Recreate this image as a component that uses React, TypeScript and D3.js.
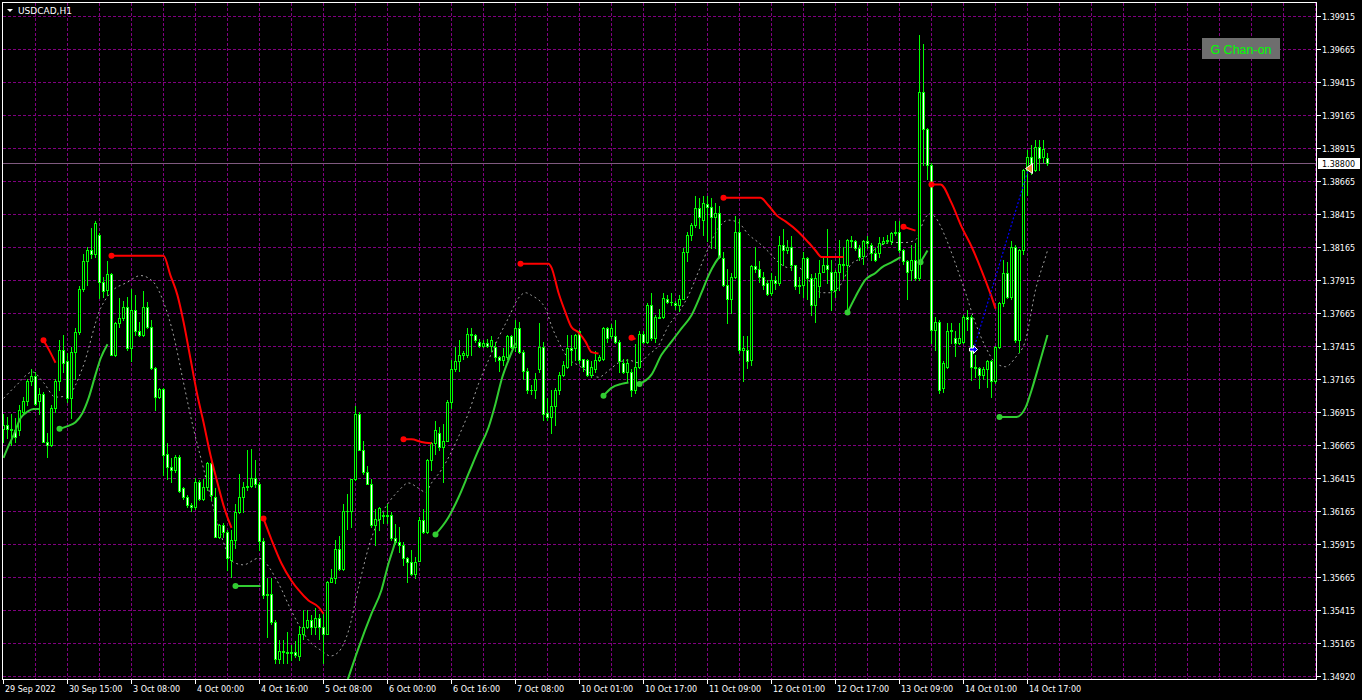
import React from "react";
import * as d3 from "d3";

const symbolTitle = "USDCAD,H1";
const buttonLabel = "G Chan-on";
const currentPrice = 1.388;

// Hourly OHLC, 262 bars (29 Sep 2022 23:00 .. 14 Oct 2022 22:00)
const barOpen = [
  1.3679,1.3682,1.3679,1.3678,1.3678,1.3692,1.3700,1.3715,1.3719,1.3700,
  1.3705,1.3669,1.3667,1.3695,1.3715,1.3739,1.3730,1.3702,1.3737,1.3752,
  1.3785,1.3806,1.3814,1.3811,1.3826,1.3790,1.3784,1.3796,1.3735,1.3759,
  1.3763,1.3771,1.3740,1.3769,1.3753,1.3750,1.3771,1.3756,1.3725,1.3703,
  1.3709,1.3660,1.3650,1.3648,1.3658,1.3634,1.3627,1.3621,1.3620,1.3639,
  1.3626,1.3635,1.3653,1.3627,1.3597,1.3606,1.3601,1.3580,1.3595,1.3616,
  1.3627,1.3635,1.3636,1.3642,1.3637,1.3594,1.3553,1.3554,1.3533,1.3505,
  1.3511,1.3510,1.3509,1.3510,1.3507,1.3524,1.3529,1.3534,1.3529,1.3536,
  1.3529,1.3524,1.3563,1.3566,1.3588,1.3573,1.3617,1.3617,1.3641,1.3690,
  1.3663,1.3646,1.3637,1.3606,1.3611,1.3614,1.3613,1.3614,1.3596,1.3593,
  1.3591,1.3581,1.3578,1.3569,1.3579,1.3610,1.3601,1.3655,1.3668,1.3676,
  1.3665,1.3670,1.3699,1.3724,1.3730,1.3735,1.3735,1.3751,1.3750,1.3745,
  1.3742,1.3744,1.3742,1.3741,1.3733,1.3731,1.3733,1.3749,1.3741,1.3755,
  1.3737,1.3723,1.3708,1.3708,1.3724,1.3741,1.3691,1.3688,1.3696,1.3708,
  1.3720,1.3726,1.3740,1.3740,1.3753,1.3732,1.3731,1.3720,1.3724,1.3731,
  1.3732,1.3755,1.3749,1.3749,1.3745,1.3729,1.3722,1.3722,1.3708,1.3726,
  1.3751,1.3745,1.3773,1.3748,1.3764,1.3764,1.3777,1.3775,1.3774,1.3773,
  1.3777,1.3813,1.3826,1.3833,1.3846,1.3837,1.3849,1.3847,1.3839,1.3842,
  1.3808,1.3788,1.3777,1.3794,1.3828,1.3739,1.3739,1.3731,1.3802,1.3800,
  1.3794,1.3789,1.3782,1.3792,1.3789,1.3818,1.3814,1.3817,1.3803,1.3787,
  1.3788,1.3808,1.3793,1.3773,1.3787,1.3798,1.3803,1.3798,1.3784,1.3798,
  1.3804,1.3803,1.3822,1.3821,1.3816,1.3810,1.3821,1.3818,1.3812,1.3812,
  1.3820,1.3821,1.3821,1.3827,1.3828,1.3814,1.3806,1.3799,1.3807,1.3793,
  1.3934,1.3906,1.3879,1.3754,1.3760,1.3710,1.3726,1.3753,1.3748,1.3744,
  1.3745,1.3764,1.3764,1.3726,1.3725,1.3720,1.3724,1.3730,1.3715,1.3741,
  1.3774,1.3797,1.3779,1.3817,1.3746,1.3814,1.3875,1.3885,1.3875,1.3892,
  1.3885,1.3884,
];
const barHigh = [
  1.3690,1.3688,1.3690,1.3687,1.3697,1.3703,1.3717,1.3724,1.3722,1.3710,
  1.3707,1.3676,1.3697,1.3717,1.3746,1.3750,1.3736,1.3741,1.3755,1.3787,
  1.3811,1.3817,1.3831,1.3836,1.3827,1.3794,1.3806,1.3797,1.3760,1.3778,
  1.3776,1.3779,1.3785,1.3780,1.3760,1.3783,1.3775,1.3761,1.3726,1.3710,
  1.3710,1.3668,1.3657,1.3659,1.3659,1.3635,1.3629,1.3623,1.3642,1.3640,
  1.3641,1.3654,1.3654,1.3634,1.3607,1.3608,1.3602,1.3602,1.3622,1.3645,
  1.3639,1.3663,1.3664,1.3655,1.3639,1.3596,1.3566,1.3566,1.3534,1.3519,
  1.3519,1.3525,1.3515,1.3518,1.3530,1.3542,1.3542,1.3538,1.3543,1.3539,
  1.3540,1.3564,1.3573,1.3595,1.3598,1.3622,1.3630,1.3641,1.3696,1.3692,
  1.3670,1.3651,1.3641,1.3618,1.3620,1.3616,1.3622,1.3616,1.3607,1.3605,
  1.3593,1.3582,1.3587,1.3582,1.3612,1.3618,1.3656,1.3669,1.3685,1.3680,
  1.3683,1.3701,1.3731,1.3741,1.3746,1.3738,1.3755,1.3755,1.3751,1.3747,
  1.3746,1.3747,1.3749,1.3745,1.3734,1.3740,1.3750,1.3750,1.3761,1.3760,
  1.3739,1.3725,1.3712,1.3721,1.3759,1.3745,1.3702,1.3708,1.3710,1.3722,
  1.3730,1.3750,1.3750,1.3751,1.3754,1.3732,1.3732,1.3730,1.3738,1.3735,
  1.3756,1.3756,1.3758,1.3761,1.3746,1.3732,1.3732,1.3724,1.3743,1.3753,
  1.3753,1.3774,1.3782,1.3765,1.3770,1.3782,1.3780,1.3782,1.3776,1.3780,
  1.3816,1.3828,1.3835,1.3855,1.3854,1.3855,1.3855,1.3854,1.3850,1.3848,
  1.3813,1.3800,1.3797,1.3840,1.3838,1.3749,1.3749,1.3803,1.3817,1.3806,
  1.3798,1.3792,1.3797,1.3795,1.3825,1.3830,1.3822,1.3825,1.3803,1.3794,
  1.3813,1.3809,1.3796,1.3797,1.3807,1.3809,1.3830,1.3807,1.3799,1.3822,
  1.3817,1.3823,1.3825,1.3822,1.3818,1.3822,1.3825,1.3820,1.3816,1.3824,
  1.3824,1.3826,1.3828,1.3836,1.3836,1.3815,1.3807,1.3818,1.3820,1.3977,
  1.3970,1.3907,1.3880,1.3764,1.3761,1.3730,1.3759,1.3759,1.3753,1.3759,
  1.3765,1.3769,1.3765,1.3735,1.3726,1.3726,1.3731,1.3731,1.3742,1.3775,
  1.3807,1.3805,1.3821,1.3818,1.3815,1.3876,1.3890,1.3894,1.3898,1.3898,
  1.3898,1.3888,
];
const barLow = [
  1.3669,1.3672,1.3667,1.3669,1.3674,1.3690,1.3697,1.3712,1.3697,1.3690,
  1.3669,1.3658,1.3666,1.3692,1.3708,1.3722,1.3699,1.3687,1.3717,1.3751,
  1.3783,1.3788,1.3808,1.3809,1.3778,1.3779,1.3780,1.3735,1.3734,1.3756,
  1.3761,1.3739,1.3730,1.3750,1.3749,1.3749,1.3755,1.3724,1.3693,1.3702,
  1.3644,1.3641,1.3639,1.3646,1.3631,1.3626,1.3620,1.3617,1.3618,1.3625,
  1.3625,1.3633,1.3625,1.3597,1.3596,1.3597,1.3572,1.3567,1.3589,1.3615,
  1.3616,1.3633,1.3635,1.3635,1.3587,1.3551,1.3521,1.3531,1.3502,1.3502,
  1.3502,1.3502,1.3504,1.3506,1.3504,1.3520,1.3528,1.3524,1.3524,1.3520,
  1.3502,1.3524,1.3563,1.3562,1.3572,1.3572,1.3603,1.3605,1.3640,1.3663,
  1.3645,1.3637,1.3605,1.3591,1.3602,1.3608,1.3608,1.3595,1.3592,1.3586,
  1.3576,1.3563,1.3568,1.3566,1.3579,1.3600,1.3600,1.3648,1.3660,1.3663,
  1.3639,1.3670,1.3695,1.3723,1.3723,1.3732,1.3733,1.3735,1.3745,1.3741,
  1.3741,1.3741,1.3738,1.3730,1.3723,1.3727,1.3732,1.3740,1.3738,1.3736,
  1.3717,1.3706,1.3705,1.3702,1.3722,1.3686,1.3686,1.3676,1.3682,1.3705,
  1.3719,1.3725,1.3727,1.3731,1.3729,1.3723,1.3719,1.3718,1.3722,1.3730,
  1.3731,1.3745,1.3748,1.3744,1.3722,1.3721,1.3715,1.3704,1.3706,1.3725,
  1.3744,1.3744,1.3746,1.3745,1.3763,1.3763,1.3774,1.3773,1.3770,1.3768,
  1.3777,1.3806,1.3822,1.3832,1.3831,1.3826,1.3821,1.3816,1.3816,1.3808,
  1.3787,1.3759,1.3767,1.3793,1.3736,1.3715,1.3725,1.3727,1.3798,1.3790,
  1.3785,1.3780,1.3780,1.3785,1.3788,1.3803,1.3812,1.3799,1.3785,1.3782,
  1.3779,1.3777,1.3765,1.3760,1.3779,1.3798,1.3789,1.3769,1.3779,1.3784,
  1.3793,1.3769,1.3817,1.3814,1.3807,1.3804,1.3816,1.3807,1.3806,1.3809,
  1.3819,1.3820,1.3819,1.3826,1.3813,1.3804,1.3777,1.3792,1.3792,1.3792,
  1.3879,1.3868,1.3744,1.3739,1.3706,1.3707,1.3725,1.3744,1.3734,1.3743,
  1.3744,1.3754,1.3716,1.3718,1.3710,1.3717,1.3711,1.3703,1.3714,1.3740,
  1.3772,1.3778,1.3777,1.3745,1.3737,1.3811,1.3856,1.3872,1.3874,1.3875,
  1.3881,1.3879,
];
const barClose = [
  1.3682,1.3679,1.3678,1.3673,1.3693,1.3700,1.3715,1.3719,1.3698,1.3705,
  1.3669,1.3667,1.3695,1.3715,1.3739,1.3729,1.3702,1.3737,1.3752,1.3785,
  1.3806,1.3814,1.3811,1.3835,1.3790,1.3783,1.3796,1.3735,1.3759,1.3763,
  1.3771,1.3740,1.3769,1.3753,1.3750,1.3771,1.3756,1.3725,1.3703,1.3709,
  1.3659,1.3650,1.3648,1.3658,1.3632,1.3627,1.3621,1.3620,1.3639,1.3626,
  1.3635,1.3653,1.3629,1.3597,1.3606,1.3601,1.3581,1.3595,1.3616,1.3627,
  1.3635,1.3636,1.3642,1.3637,1.3594,1.3553,1.3554,1.3533,1.3505,1.3511,
  1.3510,1.3509,1.3510,1.3508,1.3524,1.3529,1.3534,1.3529,1.3536,1.3529,
  1.3524,1.3563,1.3566,1.3588,1.3573,1.3617,1.3617,1.3641,1.3690,1.3663,
  1.3646,1.3637,1.3606,1.3611,1.3619,1.3613,1.3614,1.3596,1.3593,1.3591,
  1.3581,1.3578,1.3569,1.3578,1.3610,1.3601,1.3655,1.3668,1.3678,1.3665,
  1.3670,1.3699,1.3724,1.3730,1.3735,1.3736,1.3751,1.3750,1.3746,1.3742,
  1.3744,1.3742,1.3746,1.3733,1.3731,1.3734,1.3749,1.3741,1.3755,1.3737,
  1.3723,1.3708,1.3708,1.3717,1.3741,1.3690,1.3688,1.3696,1.3708,1.3720,
  1.3727,1.3740,1.3739,1.3750,1.3731,1.3726,1.3720,1.3726,1.3731,1.3733,
  1.3755,1.3748,1.3755,1.3745,1.3730,1.3722,1.3729,1.3708,1.3726,1.3751,
  1.3745,1.3773,1.3748,1.3764,1.3763,1.3778,1.3775,1.3775,1.3773,1.3777,
  1.3813,1.3826,1.3833,1.3846,1.3839,1.3850,1.3847,1.3839,1.3842,1.3809,
  1.3788,1.3777,1.3794,1.3828,1.3739,1.3740,1.3730,1.3802,1.3800,1.3794,
  1.3788,1.3781,1.3792,1.3789,1.3818,1.3814,1.3817,1.3803,1.3787,1.3788,
  1.3808,1.3793,1.3773,1.3793,1.3797,1.3803,1.3800,1.3784,1.3798,1.3804,
  1.3803,1.3822,1.3821,1.3816,1.3809,1.3821,1.3820,1.3812,1.3807,1.3820,
  1.3821,1.3822,1.3827,1.3828,1.3814,1.3806,1.3798,1.3807,1.3793,1.3934,
  1.3906,1.3879,1.3754,1.3760,1.3708,1.3729,1.3753,1.3754,1.3744,1.3748,
  1.3764,1.3762,1.3726,1.3725,1.3720,1.3724,1.3730,1.3715,1.3741,1.3774,
  1.3797,1.3779,1.3817,1.3746,1.3814,1.3875,1.3885,1.3875,1.3892,1.3884,
  1.3891,1.3880,
];

// time axis labels (every 16 bars)
const timeTickBars = [0,16,32,48,64,80,96,112,128,144,160,176,192,208,224,240,256];
const timeTickLabels = [
  "29 Sep 2022","30 Sep 15:00","3 Oct 08:00","4 Oct 00:00","4 Oct 16:00","5 Oct 08:00",
  "6 Oct 00:00","6 Oct 16:00","7 Oct 08:00","10 Oct 01:00","10 Oct 17:00","11 Oct 09:00",
  "12 Oct 01:00","12 Oct 17:00","13 Oct 09:00","14 Oct 01:00","14 Oct 17:00",
];
// price axis labels
const priceTicks = [
  1.39915,1.39665,1.39415,1.39165,1.38915,1.38665,1.38415,1.38165,1.37915,1.37665,
  1.37415,1.37165,1.36915,1.36665,1.36415,1.36165,1.35915,1.35665,1.35415,1.35165,1.3492,
];

// grey dotted centred average: [bar, price]
const maPoints: [number, number][] = [
  [0,1.3702],[3.25,1.3712],[7.25,1.3722],[10,1.3714],[13,1.3703],[16,1.3704],[19.75,1.3725],
  [24.25,1.3770],[26.75,1.3782],[31,1.3790],[34.25,1.3795],[37.5,1.3790],[40,1.3775],[42.5,1.3750],
  [45,1.3714],[47.5,1.3679],[50,1.3649],[52.5,1.3619],[55,1.3593],[57.5,1.3578],[60,1.3576],
  [63.75,1.3581],[68.75,1.3562],[72,1.3541],[76.25,1.3519],[79.5,1.3511],[81.75,1.3507],[83.75,1.3510],
  [86.25,1.3526],[88.75,1.3559],[91.25,1.3589],[93.75,1.3610],[96.25,1.3623],[98.75,1.3632],
  [101.25,1.3638],[103.75,1.3634],[105.5,1.3631],[107,1.3638],[109.5,1.3648],[113.75,1.3673],
  [116.25,1.3691],[118.75,1.3713],[121.25,1.3731],[123.75,1.3748],[126.25,1.3763],[128.75,1.3778],
  [130.5,1.3782],[132,1.3780],[135.5,1.3770],[137,1.3757],[138.75,1.3745],[141.25,1.3732],
  [143.75,1.3727],[146.25,1.3722],[148.75,1.3718],[151.25,1.3723],[153.75,1.3729],[156.25,1.3731],
  [158.75,1.3729],[161.25,1.3735],[163.75,1.3742],[166.25,1.3757],[168.75,1.3767],[171.25,1.3780],
  [173.75,1.3798],[176.25,1.3816],[178.75,1.3831],[181.25,1.3837],[183.75,1.3835],[186.25,1.3826],
  [188.75,1.3820],[191.25,1.3813],[193.75,1.3805],[196.25,1.3801],[198.75,1.3801],[202,1.3789],
  [204.5,1.3782],[207,1.3782],[209.5,1.3789],[212,1.3804],[215.5,1.3809],[218.75,1.3817],
  [222,1.3820],[225.5,1.3820],[228,1.3822],[230.5,1.3839],[231.75,1.3842],[233,1.3839],
  [235.5,1.3824],[238,1.3804],[240.5,1.3782],[243,1.3759],[245.5,1.3741],[248,1.3729],
  [250.5,1.3726],[253,1.3733],[255.5,1.3746],[258,1.3784],[260.5,1.3809],[261,1.3814],
];

// red (resistance) trailing segments: [bar, price]
const redSegments: [number, number][][] = [
  [[10,1.3746],[11.5,1.3738],[13,1.3729]],
  [[27,1.3810],[40,1.3810],[41.75,1.3795],[43.5,1.3780],[45,1.3760],[46.75,1.3732],[48.5,1.3704],
   [50,1.3684],[51.75,1.3659],[53.5,1.3638],[55,1.3621],[57,1.3604]],
  [[65,1.3611],[67,1.3595],[69.5,1.3577],[72,1.3564],[73.75,1.3557],[76.25,1.3549],[78.75,1.3544],[80,1.3539]],
  [[100,1.3671],[102,1.3671],[104.5,1.3669],[107,1.3668]],
  [[129.25,1.3804],[136.25,1.3804],[137,1.3801],[138.75,1.3782],[140.5,1.3767],[142,1.3756],
   [143.75,1.3752],[145.5,1.3745],[147,1.3737],[148.75,1.3736]],
  [[157,1.3748],[158,1.3747]],
  [[180,1.3854],[189.25,1.3854],[191.25,1.3848],[193.5,1.3840],[195.5,1.3836],[198.75,1.3828],
   [201.25,1.3820],[203,1.3814],[204.5,1.3809],[210,1.3809]],
  [[225,1.3832],[228,1.3829]],
  [[232,1.3864],[234.25,1.3864],[237,1.3850],[239.5,1.3832],[242,1.3817],[244.5,1.3799],[247,1.3779],[248,1.3770]],
];

// green (support) trailing segments: [bar, price]
const greenSegments: [number, number][][] = [
  [[0,1.3657],[1.25,1.3666],[2.5,1.3674],[4.25,1.3687],[6,1.3692],[7.5,1.3694],[9,1.3694]],
  [[14,1.3679],[16,1.3681],[18,1.3684],[19.75,1.3691],[21.25,1.3702],[23,1.3720],[24.25,1.3732],[26,1.3743]],
  [[58,1.3560],[64.25,1.3560]],
  [[85.5,1.3484],[88.75,1.3513],[92,1.3539],[94.5,1.3557],[96.25,1.3577],[97.5,1.3589],[98,1.3594]],
  [[108,1.3599],[111.25,1.3612],[113.75,1.3627],[116.25,1.3645],[118.75,1.3663],[121.25,1.3680],
   [123,1.3698],[124.5,1.3716],[126.25,1.3731],[128,1.3744]],
  [[150,1.3704],[152,1.3710],[154.5,1.3713],[156.25,1.3714]],
  [[159,1.3713],[162,1.3720],[164.5,1.3735],[167,1.3745],[169.5,1.3755],[172,1.3765],[174.5,1.3782],
   [176.25,1.3795],[178,1.3805],[179.25,1.3810]],
  [[211,1.3767],[213,1.3779],[215.5,1.3792],[218,1.3797],[219.5,1.3801],[222,1.3805],[224.25,1.3809]],
  [[229.25,1.3805],[231,1.3814]],
  [[249,1.3688],[253.25,1.3688],[255.5,1.3695],[257,1.3708],[258.75,1.3726],[261,1.3750]],
];
const greenHasDot = [false,true,true,false,true,true,true,true,true,true];

// blue zigzag leg: [bar, price]
const zigzagPoints: [number, number][] = [[242.5,1.3739],[256.25,1.3876]];

const LIME = "#00ff00";
const GRID = "#800080";
const AXIS_FONT = "DejaVu Sans";

export default function App() {
  const x = d3.scaleLinear().domain([0, 261]).range([3.5, 1047.5]);
  const y = d3.scaleLinear().domain([1.3492, 1.39915]).range([675.8, 16]);
  const row = (p: number) => Math.round(y(p));
  const col = (i: number) => Math.floor(x(i));
  const lineGen = d3
    .line<[number, number]>()
    .x((d) => x(d[0]))
    .y((d) => y(d[1]))
    .curve(d3.curveMonotoneX);

  const left = 2, top = 2, right = 1316, bottom = 679;

  const gridCols: number[] = [];
  for (let k = 8; col(k) < right; k += 8) gridCols.push(col(k));

  const candles = barOpen.map((o, i) => {
    const c = barClose[i];
    const cx = col(i);
    const rO = row(o), rC = row(c);
    const tp = Math.min(rO, rC), bt = Math.max(rO, rC);
    const rH = Math.min(row(barHigh[i]), tp);
    const rL = Math.max(row(barLow[i]), bt);
    const bull = c >= o;
    return (
      <g key={i}>
        <rect x={cx} y={rH} width={1} height={rL - rH + 1} fill={LIME} />
        <rect x={cx - 1} y={tp} width={3} height={bt - tp + 1} fill={LIME} />
        {bt - tp >= 2 && (
          <rect x={cx} y={tp + 1} width={1} height={bt - tp - 1} fill={bull ? "#000000" : "#ffffff"} />
        )}
      </g>
    );
  });

  const zStart = zigzagPoints[0];
  const zEnd = zigzagPoints[zigzagPoints.length - 1];
  const bx = x(zStart[0]), by = y(zStart[1]);
  const ox = x(zEnd[0]), oy = y(zEnd[1]);
  const priceRow = row(currentPrice);

  return (
    <div style={{ position: "absolute", left: 0, top: 0, width: 1362, height: 700, background: "#000" }}>
      <svg width={1362} height={700} style={{ display: "block" }}>
        <defs>
          <clipPath id="plotClip">
            <rect x={left + 1} y={top + 1} width={right - left - 1} height={bottom - top - 1} />
          </clipPath>
        </defs>
        <rect x={0} y={0} width={1362} height={700} fill="#000000" />

        {/* grid */}
        <g shapeRendering="crispEdges">
          {priceTicks.map((p) => (
            <line key={"h" + p} x1={left + 1} x2={right} y1={row(p) + 0.5} y2={row(p) + 0.5}
              stroke={GRID} strokeWidth={1} strokeDasharray="3 2" />
          ))}
          {gridCols.map((cx) => (
            <line key={"v" + cx} x1={cx + 0.5} x2={cx + 0.5} y1={top + 1} y2={bottom}
              stroke={GRID} strokeWidth={1} strokeDasharray="3 2" />
          ))}
          <line x1={left + 1} x2={right} y1={priceRow + 0.5} y2={priceRow + 0.5} stroke="#7f5a7f" strokeWidth={1} />
        </g>

        <g clipPath="url(#plotClip)">
          {/* centred average */}
          <path d={lineGen(maPoints) || ""} fill="none" stroke="#a0a0a0" strokeWidth={1} strokeDasharray="2 3" />

          <g shapeRendering="crispEdges">{candles}</g>

          {/* support lines */}
          {greenSegments.map((seg, k) => (
            <g key={"g" + k}>
              <path d={lineGen(seg) || ""} fill="none" stroke="#32cd32" strokeWidth={2} />
              {greenHasDot[k] && <circle cx={x(seg[0][0])} cy={y(seg[0][1])} r={3} fill="#32cd32" />}
            </g>
          ))}
          {/* resistance lines */}
          {redSegments.map((seg, k) => (
            <g key={"r" + k}>
              <path d={lineGen(seg) || ""} fill="none" stroke="#ff0000" strokeWidth={2} />
              <circle cx={x(seg[0][0])} cy={y(seg[0][1])} r={3} fill="#ff0000" />
            </g>
          ))}

          {/* zigzag leg with arrows */}
          <line x1={bx} y1={by} x2={ox} y2={oy} stroke="#0000ff" strokeWidth={1.2} strokeDasharray="2 2" />
          <polygon
            points={[[-4, -1.5], [0, -1.5], [0, -4], [4, 0], [0, 4], [0, 1.5], [-4, 1.5]]
              .map(([dx, dy]) => `${bx + dx},${by + dy}`).join(" ")}
            fill="#0000ff" stroke="#ffffff" strokeWidth={1} />
          <polygon
            points={[[-3, 0], [4, -5], [4, 5]].map(([dx, dy]) => `${ox + dx},${oy + dy}`).join(" ")}
            fill="#e8923a" stroke="#ffffff" strokeWidth={1} />
        </g>

        {/* frame */}
        <g shapeRendering="crispEdges" stroke="#ffffff" strokeWidth={1}>
          <line x1={left + 0.5} x2={left + 0.5} y1={top} y2={bottom + 1} />
          <line x1={left} x2={right + 1} y1={top + 0.5} y2={top + 0.5} />
          <line x1={right + 0.5} x2={right + 0.5} y1={top} y2={bottom + 1} />
          <line x1={left} x2={right + 1} y1={bottom + 0.5} y2={bottom + 0.5} />
        </g>

        {/* price axis */}
        <g fontFamily={AXIS_FONT} fontSize={8} fill="#ffffff">
          {priceTicks.map((p) => (
            <g key={"pt" + p}>
              <line x1={right + 1} x2={right + 5} y1={row(p) + 0.5} y2={row(p) + 0.5} stroke="#ffffff" shapeRendering="crispEdges" />
              <text x={right + 6} y={row(p) + 3.5}>{p.toFixed(5)}</text>
            </g>
          ))}
          <rect x={right + 2} y={priceRow - 5} width={42} height={11} fill="#ffffff" />
          <text x={right + 6} y={priceRow + 3.5} fill="#000000">{currentPrice.toFixed(5)}</text>
        </g>

        {/* time axis */}
        <g fontFamily={AXIS_FONT} fontSize={8} fill="#ffffff">
          {timeTickBars.map((b, k) => (
            <g key={"tt" + b}>
              <line x1={col(b) + 0.5} x2={col(b) + 0.5} y1={bottom + 1} y2={bottom + 5} stroke="#ffffff" shapeRendering="crispEdges" />
              <text x={col(b) + 2} y={bottom + 13}>{timeTickLabels[k]}</text>
            </g>
          ))}
        </g>

        {/* title */}
        <polygon points="7,9 13,9 10,12" fill="#ffffff" />
        <text x={18} y={14} fontFamily={AXIS_FONT} fontSize={9} fill="#ffffff">{symbolTitle}</text>

        {/* button */}
        <rect x={1202} y={38} width={78} height={21} fill="#6e6e6e" />
        <text x={1241} y={53.5} textAnchor="middle" fontFamily="Liberation Sans" fontSize={12.5} fill={LIME}>
          {buttonLabel}
        </text>
      </svg>
    </div>
  );
}
